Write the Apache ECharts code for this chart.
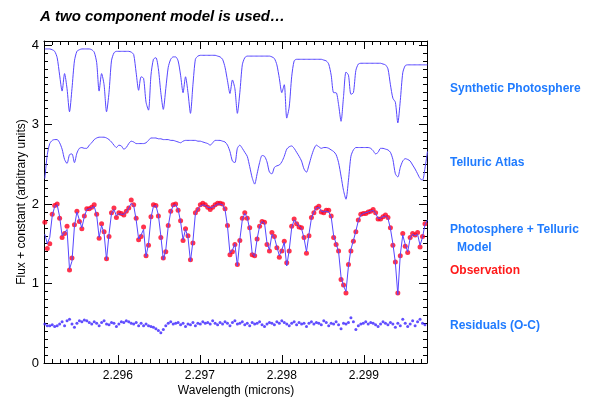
<!DOCTYPE html>
<html>
<head>
<meta charset="utf-8">
<script src="https://cdn.jsdelivr.net/npm/echarts@6/dist/echarts.min.js"></script>
<style>
  html, body { margin: 0; padding: 0; background: #fff; }
  #chart { width: 598px; height: 401px; }
</style>
</head>
<body>
<div id="chart"></div>
<script>
// Wavelength sampling of the spectra (microns)
const lambdaStart = 2.29511;
const lambdaStep = 0.0000301;

// Synthetic photosphere, offset to sit near 3.9
const photosphere = [
  3.95,3.95,3.95,3.94,3.92,3.84,3.62,3.42,3.64,3.45,
  3.16,3.45,3.80,3.92,3.94,3.95,3.95,3.95,3.95,3.94,
  3.91,3.78,3.42,3.64,3.50,3.16,3.40,3.80,3.90,3.92,
  3.92,3.92,3.92,3.92,3.92,3.91,3.88,3.65,3.43,3.60,
  3.58,3.28,3.18,3.62,3.82,3.84,3.70,3.40,3.19,3.45,
  3.72,3.82,3.85,3.85,3.80,3.62,3.40,3.60,3.40,3.14,
  3.50,3.82,3.86,3.87,3.87,3.87,3.87,3.87,3.87,3.87,
  3.86,3.85,3.82,3.72,3.55,3.39,3.56,3.45,3.14,3.40,
  3.75,3.84,3.86,3.86,3.86,3.86,3.86,3.86,3.86,3.86,
  3.86,3.86,3.85,3.83,3.75,3.58,3.40,3.50,3.08,3.22,
  3.60,3.80,3.82,3.82,3.82,3.82,3.82,3.82,3.82,3.82,
  3.82,3.82,3.82,3.81,3.80,3.76,3.62,3.40,3.40,3.25,
  3.04,3.35,3.66,3.62,3.38,3.40,3.68,3.76,3.77,3.77,
  3.77,3.77,3.77,3.77,3.77,3.77,3.77,3.76,3.75,3.70,
  3.50,3.33,3.28,3.02,3.30,3.65,3.74,3.75,3.75,3.75,
  3.75,3.75,3.75,3.75,3.75,3.75
];

// Telluric atlas transmission, offset to sit near 2.8
const telluric = [
  2.32,2.62,2.76,2.80,2.81,2.81,2.77,2.69,2.56,2.51,
  2.62,2.63,2.52,2.64,2.70,2.71,2.70,2.70,2.74,2.77,
  2.81,2.83,2.84,2.84,2.84,2.83,2.81,2.78,2.74,2.71,
  2.74,2.73,2.69,2.71,2.76,2.79,2.78,2.76,2.76,2.76,
  2.76,2.77,2.80,2.83,2.83,2.83,2.82,2.82,2.81,2.81,
  2.81,2.80,2.80,2.79,2.78,2.77,2.79,2.80,2.80,2.80,
  2.80,2.80,2.79,2.79,2.78,2.77,2.76,2.74,2.77,2.80,
  2.80,2.80,2.79,2.78,2.74,2.66,2.54,2.52,2.70,2.74,
  2.70,2.65,2.60,2.47,2.33,2.25,2.38,2.52,2.61,2.60,
  2.53,2.40,2.38,2.46,2.48,2.49,2.53,2.60,2.69,2.72,
  2.73,2.70,2.65,2.60,2.54,2.44,2.40,2.49,2.60,2.69,
  2.74,2.72,2.70,2.71,2.71,2.70,2.68,2.66,2.62,2.52,
  2.35,2.17,2.06,2.30,2.60,2.68,2.71,2.71,2.71,2.71,
  2.71,2.71,2.70,2.67,2.63,2.65,2.70,2.70,2.69,2.68,
  2.65,2.56,2.38,2.34,2.46,2.54,2.57,2.56,2.54,2.49,
  2.44,2.38,2.32,2.30,2.45,2.66
];

// Combined photosphere x telluric model
const model = [
  1.62,1.50,1.58,1.85,1.97,1.99,1.84,1.60,1.64,1.68,
  1.18,1.28,1.72,1.90,1.80,1.70,1.84,1.93,1.94,1.95,
  1.97,1.86,1.58,1.73,1.63,1.30,1.62,1.88,1.93,1.85,
  1.88,1.87,1.87,1.90,1.95,2.01,1.98,1.80,1.56,1.61,
  1.68,1.34,1.50,1.83,1.97,1.98,1.86,1.60,1.30,1.42,
  1.72,1.90,1.98,1.99,1.93,1.78,1.55,1.68,1.58,1.28,
  1.53,1.88,1.94,1.97,1.99,1.98,1.96,1.95,1.96,1.98,
  2.00,2.00,1.99,1.93,1.72,1.38,1.42,1.50,1.22,1.55,
  1.80,1.88,1.83,1.68,1.38,1.34,1.56,1.72,1.78,1.76,
  1.51,1.42,1.62,1.58,1.46,1.35,1.42,1.52,1.22,1.42,
  1.70,1.80,1.76,1.72,1.69,1.57,1.40,1.62,1.82,1.90,
  1.95,1.96,1.91,1.90,1.91,1.90,1.84,1.60,1.50,1.40,
  1.08,0.97,0.90,1.22,1.43,1.54,1.66,1.79,1.86,1.88,
  1.89,1.90,1.91,1.92,1.88,1.82,1.82,1.84,1.85,1.82,
  1.69,1.50,1.26,0.86,1.36,1.61,1.49,1.40,1.57,1.62,
  1.60,1.62,1.48,1.58,1.74,1.80
];

// Observed spectrum
const observation = [
  1.77,1.44,1.50,1.87,1.98,2.00,1.82,1.58,1.63,1.72,
  1.17,1.32,1.74,1.91,1.78,1.69,1.85,1.94,1.94,1.96,
  1.99,1.87,1.57,1.75,1.65,1.31,1.59,1.89,1.95,1.83,
  1.89,1.88,1.86,1.91,1.95,2.05,1.99,1.82,1.55,1.59,
  1.71,1.35,1.48,1.84,1.99,1.98,1.85,1.58,1.32,1.40,
  1.73,1.91,1.99,2.00,1.92,1.79,1.54,1.69,1.60,1.30,
  1.51,1.89,1.93,1.99,2.01,1.99,1.96,1.93,1.96,1.99,
  2.01,2.01,2.00,1.94,1.73,1.36,1.40,1.49,1.24,1.54,
  1.82,1.89,1.82,1.70,1.36,1.35,1.56,1.72,1.78,1.77,
  1.49,1.41,1.64,1.59,1.45,1.33,1.41,1.53,1.26,1.41,
  1.72,1.81,1.75,1.71,1.70,1.58,1.38,1.60,1.83,1.89,
  1.95,1.97,1.90,1.89,1.92,1.92,1.85,1.58,1.49,1.41,
  1.05,0.98,0.88,1.24,1.41,1.53,1.65,1.80,1.87,1.88,
  1.88,1.90,1.91,1.93,1.89,1.81,1.81,1.84,1.86,1.83,
  1.70,1.48,1.27,0.88,1.35,1.63,1.47,1.39,1.58,1.63,
  1.61,1.64,1.46,1.59,1.75,1.82
];

// Observed minus computed, offset to 0.5
const residuals = [
  0.49,0.47,0.47,0.48,0.46,0.47,0.49,0.52,0.47,0.53,
  0.55,0.49,0.45,0.50,0.53,0.52,0.54,0.53,0.51,0.49,
  0.52,0.50,0.47,0.51,0.53,0.49,0.48,0.51,0.50,0.46,
  0.49,0.52,0.51,0.53,0.52,0.50,0.49,0.51,0.47,0.50,
  0.47,0.49,0.47,0.46,0.45,0.43,0.41,0.38,0.42,0.47,
  0.50,0.52,0.49,0.50,0.51,0.48,0.50,0.46,0.49,0.48,
  0.51,0.47,0.50,0.49,0.52,0.50,0.51,0.49,0.53,0.50,
  0.48,0.51,0.49,0.52,0.50,0.47,0.51,0.53,0.49,0.50,
  0.52,0.48,0.50,0.47,0.51,0.49,0.50,0.52,0.48,0.46,
  0.49,0.51,0.50,0.48,0.52,0.50,0.53,0.51,0.49,0.47,
  0.50,0.52,0.48,0.51,0.49,0.50,0.46,0.50,0.52,0.49,
  0.51,0.50,0.48,0.53,0.51,0.47,0.50,0.49,0.52,0.48,
  0.43,0.50,0.49,0.51,0.57,0.52,0.42,0.47,0.49,0.50,
  0.52,0.49,0.51,0.50,0.48,0.46,0.49,0.52,0.50,0.48,
  0.51,0.49,0.45,0.50,0.47,0.55,0.50,0.46,0.49,0.53,
  0.47,0.52,0.55,0.50,0.48,0.50
];

// Right-hand annotations: [text, y, colour, x]
const annotations = [
  ['Synthetic Photosphere', 89, '#1f7bff', 450],
  ['Telluric Atlas', 163, '#1f7bff', 450],
  ['Photosphere + Telluric', 230, '#1f7bff', 450],
  ['Model', 248, '#1f7bff', 457],
  ['Observation', 271, '#ff1a1a', 450],
  ['Residuals (O-C)', 326, '#1f7bff', 450]
];

const xMin = 2.2951, xMax = 2.29977;
const yMin = 0, yMax = 4.05;

const wavelength = photosphere.map((_, i) => +(lambdaStart + i * lambdaStep).toFixed(7));
const pairs = arr => arr.map((v, i) => [wavelength[i], v]);

const FONT = '"Liberation Sans", Arial, Helvetica, sans-serif';
const LINE = '#5646ff';

const majorX = pos => ({
  type: 'value', position: pos, min: xMin, max: xMax, splitNumber: 5,
  axisLine: { show: true, onZero: false, lineStyle: { color: '#000', width: 1 } },
  axisTick: { show: true, inside: true, length: 8, lineStyle: { color: '#000', width: 1 } },
  axisLabel: {
    show: pos === 'bottom', showMinLabel: false, showMaxLabel: false,
    color: '#000', fontSize: 12, fontFamily: FONT, margin: 7,
    formatter: v => v.toFixed(3)
  },
  splitLine: { show: false }
});
const minorX = pos => ({
  type: 'value', position: pos, min: xMin, max: xMax, interval: 0.0001,
  axisLine: { show: false, onZero: false },
  axisTick: { show: true, inside: true, length: 4, lineStyle: { color: '#000', width: 1 } },
  axisLabel: { show: false }, splitLine: { show: false }
});
const majorY = pos => ({
  type: 'value', position: pos, min: yMin, max: yMax, interval: 1,
  axisLine: { show: true, onZero: false, lineStyle: { color: '#000', width: 1 } },
  axisTick: { show: true, inside: true, length: 8, lineStyle: { color: '#000', width: 1 } },
  axisLabel: {
    show: pos === 'left', showMaxLabel: false, color: '#000', fontSize: 13, fontFamily: FONT, margin: 5,
    formatter: v => Number.isInteger(v) ? String(v) : ''
  },
  splitLine: { show: false }
});
const minorY = pos => ({
  type: 'value', position: pos, min: yMin, max: yMax, interval: 0.1,
  axisLine: { show: false, onZero: false },
  axisTick: { show: true, inside: true, length: 4, lineStyle: { color: '#000', width: 1 } },
  axisLabel: { show: false }, splitLine: { show: false }
});

const chart = echarts.init(document.getElementById('chart'), null, { renderer: 'canvas' });
chart.setOption({
  animation: false,
  backgroundColor: '#fff',
  grid: { left: 44, right: 171, top: 41, bottom: 38, containLabel: false },
  xAxis: [majorX('bottom'), minorX('bottom'), majorX('top'), minorX('top')],
  yAxis: [majorY('left'), minorY('left'), majorY('right'), minorY('right')],
  series: [
    { name: 'Synthetic Photosphere', type: 'line', data: pairs(photosphere), showSymbol: false,
      lineStyle: { color: LINE, width: 1 }, smooth: 0.25 },
    { name: 'Telluric Atlas', type: 'line', data: pairs(telluric), showSymbol: false,
      lineStyle: { color: LINE, width: 1 }, smooth: 0.25 },
    { name: 'Model', type: 'line', data: pairs(model), showSymbol: false,
      lineStyle: { color: LINE, width: 1 } },
    { name: 'Observation', type: 'scatter', data: pairs(observation), symbol: 'circle', symbolSize: 5,
      itemStyle: { color: '#ff0020' } },
    { name: 'Residuals', type: 'scatter', data: pairs(residuals), symbol: 'circle', symbolSize: 3,
      itemStyle: { color: '#3a22ff' } }
  ],
  graphic: [
    { type: 'text', x: 40, y: 17,
      style: { text: 'A two component model is used…', font: 'italic bold 15px ' + FONT, fill: '#000',
               align: 'left', verticalAlign: 'middle' } },
    { type: 'text', x: 22, y: 202, rotation: Math.PI / 2,
      style: { text: 'Flux + constant (arbitrary units)', font: '12px ' + FONT, fill: '#000',
               align: 'center', verticalAlign: 'middle' } },
    { type: 'text', x: 236, y: 391,
      style: { text: 'Wavelength (microns)', font: '12px ' + FONT, fill: '#000',
               align: 'center', verticalAlign: 'middle' } }
  ].concat(annotations.map(([t, y, c, x]) => ({
    type: 'text', x: x, y: y,
    style: { text: t, font: 'bold 12px ' + FONT, fill: c, align: 'left', verticalAlign: 'middle' }
  })))
});
</script>
</body>
</html>
